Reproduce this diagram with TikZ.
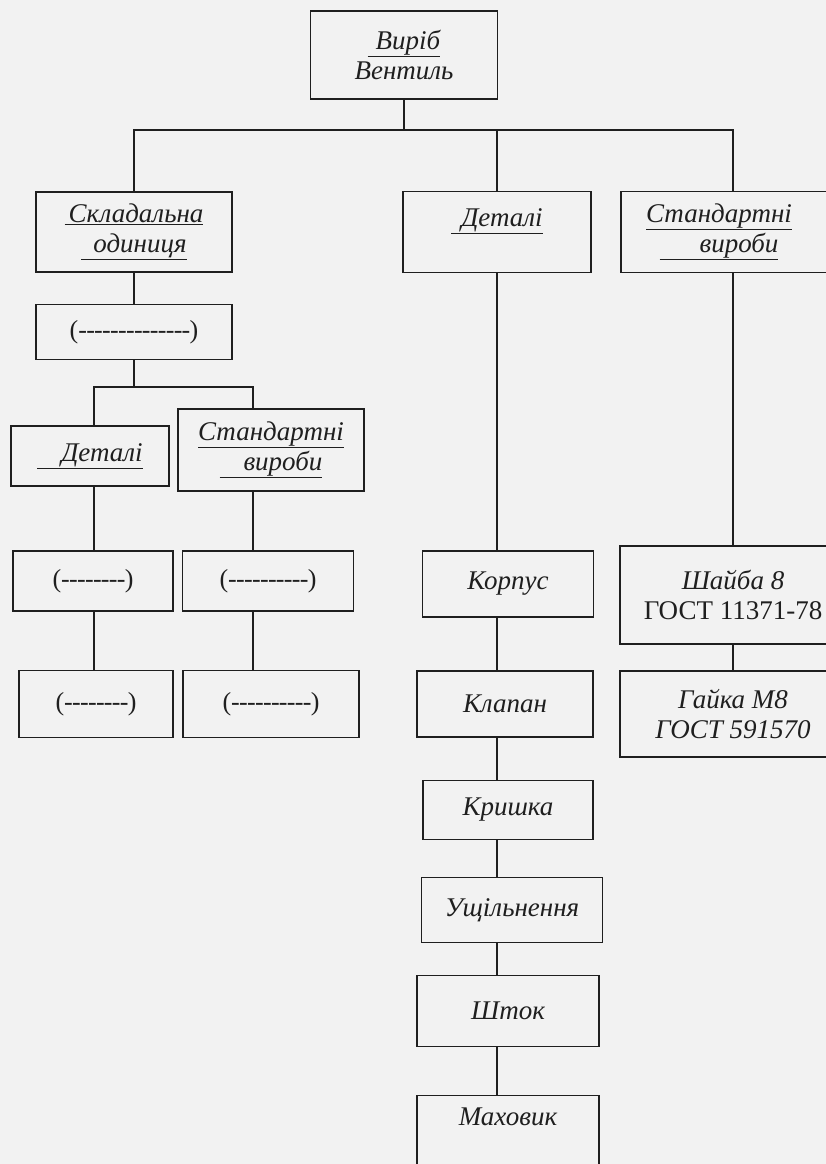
\documentclass[tikz,border=0pt]{standalone}
\usepackage{fontspec}
\setmainfont{Liberation Serif}
\usepackage{tikz}
\usetikzlibrary{positioning}
\definecolor{ink}{gray}{0.12}
\definecolor{paper}{gray}{0.95}
\newcommand{\undl}[2]{\underline{\hspace{#1}#2}} % underlined title with a lead-in
\newcommand{\dashrow}[1]{(\foreach \i in {1,...,#1}{-\kern-0.7pt})\kern0pt} % the (------) placeholder
\tikzset{
box/.style={draw=ink, line width=1.3pt, text=ink, align=center, inner sep=0pt,
  font=\itshape\fontsize{27}{30}\selectfont}, % every frame of the tree
wh/.style 2 args={minimum width=#1, minimum height=#2}, % size of a frame
blank/.style={box, font=\fontsize{26}{30}\selectfont}, % frames with an empty entry
link/.style={draw=ink, line width=1.1pt}, % the lines of the tree
}

\begin{document}
\begin{tikzpicture}[x=1pt, y=-1pt]
\useasboundingbox (0,0) rectangle (826,1164);
\clip (0,0) rectangle (826,1164);
\fill[paper] (0,0) rectangle (826,1164);

% top and first level
\node[box, wh={187}{88}] (vyrib) at (404,55) {\undl{8pt}{Виріб}\\Вентиль};
\node[box, wh={196}{80}] (sklad) at (134,232) {\undl{4pt}{Складальна}\\\undl{12pt}{одиниця}};
\node[box, wh={188}{81}, text depth=29pt] (det) at (497,232) {\undl{10pt}{Деталі}};
\node[box, wh={224}{81}] (std) at (733,232) {\undl{0pt}{Стандартні}\hspace*{28pt}\\\undl{40pt}{вироби}\hspace*{28pt}};

% assembly unit branch
\node[blank, wh={196}{55}] (skl1) at (134,332) {\dashrow{14}};
\node[box, wh={158}{60}] (det2) at (90,456) {\undl{24pt}{Деталі}};
\node[box, wh={186}{82}] (std2) at (271,450) {\undl{0pt}{Стандартні}\\\undl{24pt}{вироби}};
\node[blank, wh={160}{60}] (b1) at (93,581) {\dashrow{8}};
\node[blank, wh={171}{60}] (b2) at (268,581) {\dashrow{10}};
\node[blank, wh={154}{67}] (b3) at (96,704) {\dashrow{8}};
\node[blank, wh={176}{67}] (b4) at (271,704) {\dashrow{10}};

% parts
\node[box, wh={171}{66}] (korp) at (508,584) {Корпус};
\node[box, wh={176}{66}] (klap) at (505,704) {Клапан};
\node[box, wh={170}{59}] (krysh) at (508,810) {Кришка};
\node[box, wh={181}{65}] (ushch) at (512,910) {Ущільнення};
\node[box, wh={182}{71}] (shtok) at (508,1011) {Шток};
\node[box, wh={182}{71}, text depth=28pt] (mahov) at (508,1131) {Маховик};

% standard items
\node[box, wh={226}{98}] (shaiba) at (733,595) {Шайба 8\\{\upshape ГОСТ 11371-78}};
\node[box, wh={226}{86}] (gaika) at (733,714) {Гайка М8\\ГОСТ 591570};

% lines
\coordinate (busy) at (0,130);
\coordinate (bus) at (vyrib.south |- busy);
\coordinate (suby) at (0,387);
\coordinate (lx) at (94,0);
\coordinate (rx) at (253,0);
\path[link] (vyrib.south) -- (bus);
\path[link] (sklad.north) |- (bus) -| (std.north);
\path[link] (det.north) -- (det.north |- bus);
\path[link] (sklad.south) -- (skl1.north);
\path[link] (skl1.south) -- (skl1.south |- suby);
\path[link] (det2.north -| lx) -- (lx |- suby) -- (rx |- suby) -- (std2.north -| rx);
\path[link] (det2.south -| lx) -- (b1.north -| lx);
\path[link] (b1.south -| lx) -- (b3.north -| lx);
\path[link] (std2.south -| rx) -- (b2.north -| rx);
\path[link] (b2.south -| rx) -- (b4.north -| rx);
\foreach \a/\b in {det/korp, korp/klap, klap/krysh, krysh/ushch, ushch/shtok, shtok/mahov}
  \path[link] (\a.south -| det) -- (\b.north -| det);
\path[link] (std.south) -- (shaiba.north);
\path[link] (shaiba.south) -- (gaika.north);
\end{tikzpicture}
\end{document}
